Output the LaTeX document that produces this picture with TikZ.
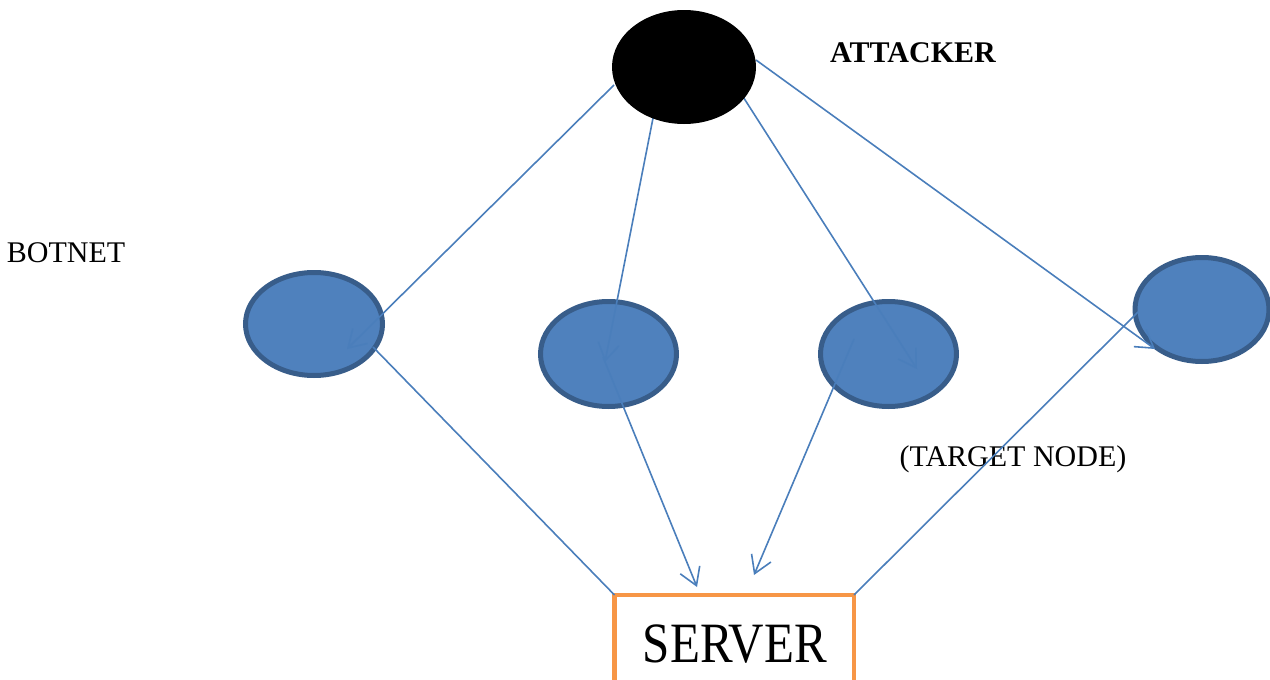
\documentclass[tikz,border=0pt]{standalone}
\usepackage{fontspec}
\setmainfont{Liberation Serif}
\newfontfamily\srvfont[FakeStretch=0.86]{Liberation Serif}
\usetikzlibrary{arrows.meta,shapes.geometric,calc}
\definecolor{botfill}{HTML}{4F81BD}
\definecolor{botedge}{HTML}{385D8A}
\definecolor{linkc}{HTML}{4A7EBB}
\definecolor{srvorange}{HTML}{F79646}
\pgfdeclarelayer{bg}\pgfdeclarelayer{fg}\pgfsetlayers{bg,main,fg}
\begin{document}
\begin{tikzpicture}[x=1pt,y=-1pt,
  bot/.style={ellipse, fill=botfill, draw=botedge, line width=5pt, inner sep=0pt, outer sep=0pt},
  attackerstyle/.style={ellipse, fill=black, inner sep=0pt, outer sep=0pt, minimum width=144pt, minimum height=114pt},
  link/.style={draw=linkc, line width=1.6pt},
  arr/.style={link, -{Straight Barb[length=17pt,width=21pt]}},
  lbl/.style={font=\fontsize{30}{36}\selectfont, anchor=base, inner sep=0pt},
  serverbox/.style={rectangle, draw=srvorange, line width=4.5pt, inner sep=0pt, outer sep=0pt, minimum width=239.5pt, minimum height=125pt},
  servertext/.style={font=\srvfont\fontsize{57}{62}\selectfont, anchor=base, inner sep=0pt}
]
\useasboundingbox (0,0) rectangle (1270,680);

% nodes
\begin{pgfonlayer}{bg}
\node[bot, minimum width=137pt, minimum height=103pt] (b1) at (314,324) {};
\node[bot, minimum width=136pt, minimum height=105pt] (b2) at (608.5,354) {};
\node[bot, minimum width=136pt, minimum height=105pt] (b3) at (888.5,354) {};
\node[bot, minimum width=134pt, minimum height=104pt] (b4) at (1202,309.5) {};
\node[serverbox] (server) at (734.25,657.5) {};
\end{pgfonlayer}
\begin{pgfonlayer}{fg}
\node[attackerstyle] (att) at (684,67) {};
\end{pgfonlayer}

\node[lbl, font=\bfseries\fontsize{30}{36}\selectfont] (attlabel) at (913,62) {ATTACKER};
\node[lbl] (botlabel) at (66,262) {BOTNET};
\node[lbl] (tgtlabel) at (1013,466) {(TARGET NODE)};
\node[servertext] (srvlabel) at (735,662) {SERVER};

% connector end points inside the ellipses
\coordinate (a1s) at ($(att.center)+(-70,18)$);
\coordinate (a2s) at ($(att.center)+(-29,41)$);
\coordinate (a3s) at ($(att.center)+(56,25)$);
\coordinate (a4s) at ($(att.center)+(72,-7)$);
\coordinate (a1e) at ($(b1.center)+(33,25)$);
\coordinate (a2e) at ($(b2.center)+(-3.5,8)$);
\coordinate (a3e) at ($(b3.center)+(28.5,15)$);
\coordinate (a4e) at ($(b4.center)+(-47,39.5)$);
\coordinate (s1s) at ($(b1.center)+(59,23)$);
\coordinate (s2s) at ($(b2.center)+(-5.5,3)$);
\coordinate (s3s) at ($(b3.center)+(-34.5,-15)$);
\coordinate (s4s) at ($(b4.center)+(-64,2.5)$);
\coordinate (s2e) at (697,587);
\coordinate (s3e) at (754,575);

% attacker to botnet
\draw[arr] (a1s) -- (a1e);
\draw[arr] (a2s) -- (a2e);
\draw[arr] (a3s) -- (a3e);
\draw[arr] (a4s) -- (a4e);

% botnet to server
\draw[link] (s1s) -- (server.north west);
\draw[arr] (s2s) -- (s2e);
\draw[arr] (s3s) -- (s3e);
\draw[link] (s4s) -- (server.north east);
\end{tikzpicture}
\end{document}
